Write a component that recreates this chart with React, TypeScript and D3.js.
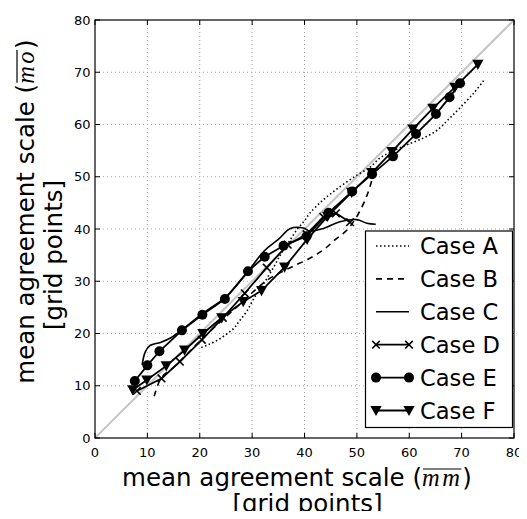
import React, { useLayoutEffect, useRef, useState } from "react";
import * as d3 from "d3";

// Axis ticks
const xTicks = [0, 10, 20, 30, 40, 50, 60, 70, 80];
const yTicks = [0, 10, 20, 30, 40, 50, 60, 70, 80];

// Series: [mean mm, mean mo] in grid points
const caseA: [number, number][] = [
  [20.3, 17.3], [21.5, 17.8], [23.2, 18.6], [25.0, 19.8], [26.5, 21.0], [27.5, 22.3],
  [29.0, 24.3], [30.5, 27.0], [32.0, 29.2], [34.0, 32.5], [35.5, 35.2], [37.0, 37.5],
  [38.5, 39.8], [40.0, 41.6], [41.0, 43.0], [43.6, 45.6], [46.8, 48.1], [50.0, 50.3],
  [52.5, 51.8], [54.4, 53.6], [56.4, 54.7], [59.5, 56.1], [62.7, 57.4], [65.3, 58.9],
  [67.5, 61.0], [69.5, 63.0], [72.3, 66.0], [74.2, 68.4],
];
const caseB: [number, number][] = [
  [11.3, 8.0], [12.7, 11.6], [15.0, 13.5], [18.0, 16.5], [21.0, 19.5], [24.0, 22.3],
  [27.0, 25.0], [30.0, 27.8], [33.0, 30.3], [35.3, 31.6], [37.9, 32.9], [41.0, 34.4],
  [43.6, 36.0], [45.8, 37.9], [48.1, 39.8], [50.0, 42.4], [51.6, 45.6], [52.5, 48.1],
  [53.3, 51.0],
];
const caseC: [number, number][] = [
  [9.0, 14.0], [9.6, 16.5], [10.5, 17.7], [12.5, 18.3], [14.5, 19.2], [16.5, 20.6],
  [20.5, 23.8], [25.0, 27.0], [29.0, 31.6], [32.3, 35.8], [35.0, 38.0], [37.3, 40.1],
  [39.8, 40.2], [41.0, 39.6], [43.6, 40.1], [46.8, 41.4], [50.0, 41.8], [51.9, 41.1],
  [53.6, 40.9],
];
const caseD: [number, number][] = [
  [8.0, 9.0], [12.7, 11.4], [16.2, 14.6], [20.4, 18.8], [24.4, 23.0], [28.6, 27.7],
  [32.8, 32.6], [36.8, 37.0], [40.4, 39.0], [43.6, 42.3], [46.0, 43.0], [48.7, 41.3],
];
const caseE: [number, number][] = [
  [7.6, 10.9], [10.0, 13.9], [12.3, 16.6], [16.6, 20.6], [20.5, 23.6], [24.8, 26.6],
  [29.2, 31.9], [32.4, 34.7], [36.0, 36.8], [40.4, 38.6], [44.6, 43.1], [49.1, 47.2],
  [52.9, 50.5], [56.9, 53.9], [61.3, 58.2], [65.1, 62.0], [67.7, 65.2], [69.7, 67.9],
];
const caseF: [number, number][] = [
  [7.2, 9.2], [9.9, 11.1], [13.6, 13.8], [17.1, 16.8], [20.6, 20.0], [24.2, 23.0],
  [28.3, 26.1], [31.8, 28.2], [36.2, 32.7], [40.5, 38.0], [44.4, 42.4], [49.0, 47.0],
  [52.9, 50.8], [56.7, 54.8], [60.7, 59.1], [64.5, 63.1], [68.7, 67.1], [73.1, 71.5],
];

const legendNames = ["Case A", "Case B", "Case C", "Case D", "Case E", "Case F"];

type Marker = "none" | "x" | "o" | "v";
const series: { data: [number, number][]; dash: string; marker: Marker; smooth: boolean }[] = [
  { data: caseA, dash: "1.5,2.5", marker: "none", smooth: true },
  { data: caseB, dash: "6,5", marker: "none", smooth: true },
  { data: caseC, dash: "", marker: "none", smooth: true },
  { data: caseD, dash: "", marker: "x", smooth: false },
  { data: caseE, dash: "", marker: "o", smooth: false },
  { data: caseF, dash: "", marker: "v", smooth: false },
];

const FONT = "'DejaVu Sans', sans-serif";
const MATH_FONT = "'Liberation Serif', 'DejaVu Serif', serif";
const LABEL_SIZE = 24.5;

function MarkerGlyph({ kind, x, y }: { kind: Marker; x: number; y: number }) {
  if (kind === "o") return <circle cx={x} cy={y} r={5} fill="#000" />;
  if (kind === "v")
    return <path d={`M${x - 5.6},${y - 4.6}L${x + 5.6},${y - 4.6}L${x},${y + 5.6}Z`} fill="#000" />;
  if (kind === "x")
    return (
      <path
        d={`M${x - 3.8},${y - 3.8}L${x + 3.8},${y + 3.8}M${x - 3.8},${y + 3.8}L${x + 3.8},${y - 3.8}`}
        stroke="#000"
        strokeWidth={1.6}
      />
    );
  return null;
}

// Axis title line with an overlined italic symbol, e.g. "(mm)" with a bar on top
function MathTitle({ transform, sym }: { transform: string; sym: string }) {
  const symRef = useRef<SVGTSpanElement>(null);
  const [bar, setBar] = useState<{ x: number; w: number } | null>(null);
  useLayoutEffect(() => {
    const el = symRef.current;
    if (el) {
      const b = el.getBBox();
      setBar({ x: b.x, w: b.width });
    }
  }, []);
  return (
    <g transform={transform}>
      <text x={0} y={0} textAnchor="middle" fontFamily={FONT} fontSize={LABEL_SIZE} fill="#000">
        {"mean agreement scale ("}
        <tspan ref={symRef} fontFamily={MATH_FONT} fontStyle="italic" letterSpacing={2.5}>
          {sym}
        </tspan>
        {")"}
      </text>
      {bar && (
        <line
          x1={bar.x + 1}
          x2={bar.x + bar.w - 1}
          y1={-16.5}
          y2={-16.5}
          stroke="#000"
          strokeWidth={1.2}
        />
      )}
    </g>
  );
}

export default function App() {
  const width = 527;
  const height = 519;
  const x = d3.scaleLinear().domain([0, 80]).range([95, 514]);
  const y = d3.scaleLinear().domain([0, 80]).range([438, 20]);

  const lineFor = (smooth: boolean) =>
    d3
      .line<[number, number]>()
      .x((d) => x(d[0]))
      .y((d) => y(d[1]))
      .curve(smooth ? d3.curveCatmullRom.alpha(0.5) : d3.curveLinear);

  const [x0, x1] = x.range();
  const [y0, y1] = y.range();

  const legX0 = 376;
  const legX1 = 409;
  const legBase = 254;
  const legStep = 32.9;

  return (
    <div style={{ margin: "-8px" }}>
      <svg width={width} height={height} style={{ display: "block", background: "#fff" }}>
        <defs>
          <clipPath id="plot-area">
            <rect x={x0} y={y1} width={x1 - x0} height={y0 - y1} />
          </clipPath>
        </defs>
        <rect x={0} y={0} width={width} height={height} fill="#fff" />

        {/* dotted grid */}
        <g stroke="#a8a8a8" strokeWidth={1} strokeDasharray="1,3">
          {xTicks.slice(1, -1).map((t) => (
            <line key={`gx${t}`} x1={x(t)} x2={x(t)} y1={y1} y2={y0} />
          ))}
          {yTicks.slice(1, -1).map((t) => (
            <line key={`gy${t}`} x1={x0} x2={x1} y1={y(t)} y2={y(t)} />
          ))}
        </g>

        {/* one-to-one reference line */}
        <line
          x1={x(0)}
          y1={y(0)}
          x2={x(80)}
          y2={y(80)}
          stroke="#c4c4c4"
          strokeWidth={2}
          clipPath="url(#plot-area)"
        />

        {/* series */}
        {series.map((s, i) => (
          <g key={i}>
            <path
              d={lineFor(s.smooth)(s.data) ?? ""}
              fill="none"
              stroke="#000"
              strokeWidth={s.marker === "none" ? 1.6 : 1.8}
              strokeDasharray={s.dash || undefined}
            />
            {s.marker !== "none" &&
              s.data.map((d, j) => <MarkerGlyph key={j} kind={s.marker} x={x(d[0])} y={y(d[1])} />)}
          </g>
        ))}

        {/* frame */}
        <rect x={x0} y={y1} width={x1 - x0} height={y0 - y1} fill="none" stroke="#000" strokeWidth={1.2} />

        {/* inward ticks on all sides */}
        <g stroke="#000" strokeWidth={1}>
          {xTicks.map((t) => (
            <g key={`tx${t}`}>
              <line x1={x(t)} x2={x(t)} y1={y0} y2={y0 - 5} />
              <line x1={x(t)} x2={x(t)} y1={y1} y2={y1 + 5} />
            </g>
          ))}
          {yTicks.map((t) => (
            <g key={`ty${t}`}>
              <line x1={x0} x2={x0 + 5} y1={y(t)} y2={y(t)} />
              <line x1={x1} x2={x1 - 5} y1={y(t)} y2={y(t)} />
            </g>
          ))}
        </g>

        {/* tick labels */}
        <g fontFamily={FONT} fontSize={13} fill="#000">
          {xTicks.map((t) => (
            <text key={`lx${t}`} x={x(t)} y={456.5} textAnchor="middle">
              {t}
            </text>
          ))}
          {yTicks.map((t) => (
            <text key={`ly${t}`} x={90.5} y={y(t)} dy="0.36em" textAnchor="end">
              {t}
            </text>
          ))}
        </g>

        {/* axis titles */}
        <MathTitle transform="translate(297,485.5)" sym="mm" />
        <text x={307.5} y={511.7} textAnchor="middle" fontFamily={FONT} fontSize={LABEL_SIZE} fill="#000">
          [grid points]
        </text>
        <MathTitle transform="translate(33.5,211.5) rotate(-90)" sym="mo" />
        <text
          transform="translate(61.8,255) rotate(-90)"
          textAnchor="middle"
          fontFamily={FONT}
          fontSize={LABEL_SIZE}
          fill="#000"
        >
          [grid points]
        </text>

        {/* legend */}
        <rect x={365.5} y={231} width={147} height={196.5} fill="#fff" stroke="#000" strokeWidth={1.2} />
        {series.map((s, i) => {
          const cy = legBase + legStep * i - 8;
          return (
            <g key={`leg${i}`}>
              <line
                x1={legX0}
                x2={legX1}
                y1={cy}
                y2={cy}
                stroke="#000"
                strokeWidth={s.marker === "none" ? 1.6 : 1.8}
                strokeDasharray={s.dash || undefined}
              />
              {s.marker !== "none" && (
                <>
                  <MarkerGlyph kind={s.marker} x={legX0} y={cy} />
                  <MarkerGlyph kind={s.marker} x={legX1} y={cy} />
                </>
              )}
              <text x={420} y={legBase + legStep * i} fontFamily={FONT} fontSize={22.6} fill="#000">
                {legendNames[i]}
              </text>
            </g>
          );
        })}
      </svg>
    </div>
  );
}
